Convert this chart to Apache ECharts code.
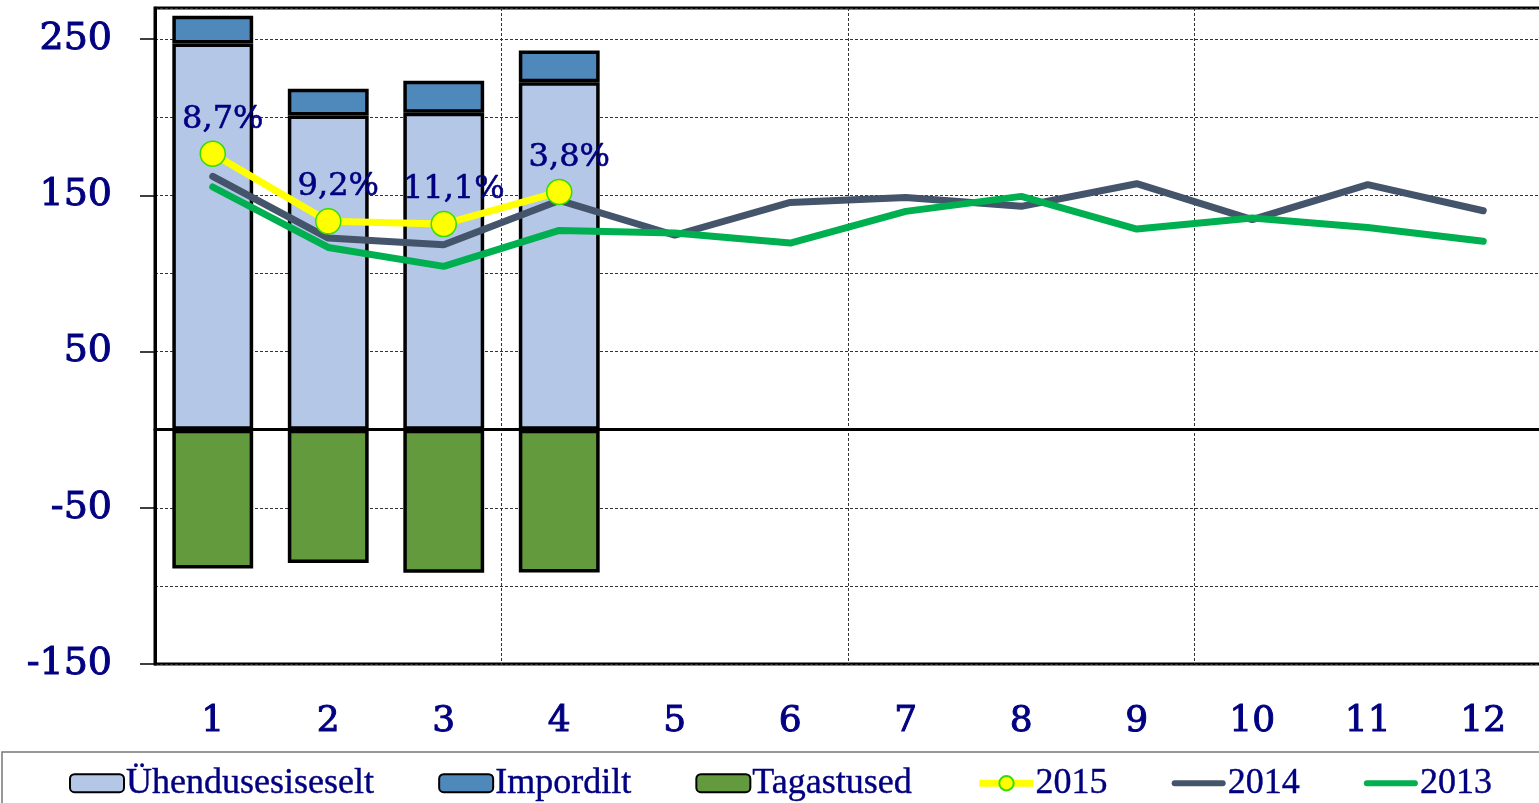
<!DOCTYPE html>
<html>
<head>
<meta charset="utf-8">
<title>Chart</title>
<script src="https://cdn.jsdelivr.net/npm/echarts/dist/echarts.min.js"></script>
<style>
  html, body { margin: 0; padding: 0; background: #fff; }
  #chart { width: 1539px; height: 803px; }
</style>
</head>
<body>
<div id="chart"></div>
<script>
  // kuud
  const months = ['1', '2', '3', '4', '5', '6', '7', '8', '9', '10', '11', '12']
  // tulpade väärtused
  const yhendusesiseselt = [247.3, 201.2, 203.0, 222.4]
  const impordilt = [17.8, 17.1, 20.4, 20.4]
  const tagastused = [-88.8, -85.4, -91.6, -91.4]
  // joonte väärtused
  const y2015 = [176.7, 133.4, 131.7, 152.2]
  const y2014 = [162.2, 122.7, 118.4, 146.8, 124.5, 145.5, 148.7, 143.0, 157.5, 134.5, 156.9, 140.2]
  const y2013 = [155.4, 116.7, 104.6, 127.6, 125.9, 119.5, 139.8, 149.4, 128.5, 135.5, 129.5, 120.6]
  const labels2015 = ['8,7%', '9,2%', '11,1%', '3,8%']
  const yTicks = [-150, -50, 50, 150, 250]

  const navy = '#000080'
  const numFont = 'DejaVu Serif'
  // paks joon legendi jaoks
  const barIcon = 'path://M3,0 L51,0 A3,3 0 0 1 51,6 L3,6 A3,3 0 0 1 3,0 Z'

  const chart = echarts.init(document.getElementById('chart'))
  chart.setOption({
    animation: false,
    grid: {
      left: 155,
      top: 8,
      right: -2,
      bottom: 139,
      show: true,
      borderColor: '#000',
      borderWidth: 3,
      containLabel: false,
      outerBoundsMode: 'none'
    },
    graphic: [{
      type: 'rect',
      shape: { x: 2, y: 752, width: 1545, height: 60 },
      style: { fill: 'none', stroke: '#777', lineWidth: 1.5 },
      silent: true
    }],
    legend: {
      top: 760,
      left: 64,
      itemWidth: 54,
      itemHeight: 18,
      itemGap: 64,
      data: [
        'Ühendusesiseselt',
        'Impordilt',
        'Tagastused',
        { name: '2015', lineStyle: { width: 7 } },
        { name: '2014', icon: barIcon },
        { name: '2013', icon: barIcon }
      ],
      textStyle: {
        fontFamily: 'Liberation Serif',
        fontSize: 36,
        color: navy,
        textBorderColor: navy,
        textBorderWidth: 0.4,
        padding: [0, 0, 0, -3]
      }
    },
    xAxis: {
      type: 'category',
      data: months,
      boundaryGap: true,
      axisLine: { lineStyle: { color: '#000', width: 3 } },
      axisTick: { show: false },
      axisLabel: {
        fontFamily: numFont,
        fontSize: 36,
        color: navy,
        textBorderColor: navy,
        textBorderWidth: 1,
        margin: 40
      },
      splitLine: {
        show: true,
        interval: 2,
        lineStyle: { color: '#333', width: 1, type: [3, 2] }
      }
    },
    yAxis: [
      {
        type: 'value',
        min: -150,
        max: 270,
        interval: 50,
        axisLine: { show: true, lineStyle: { color: '#000', width: 3 } },
        axisTick: { show: false },
        axisLabel: { show: false },
        splitLine: {
          show: true,
          lineStyle: { color: '#333', width: 1, type: [3, 2] }
        }
      },
      {
        type: 'value',
        position: 'left',
        min: -150,
        max: 270,
        interval: 50,
        axisLine: { show: false },
        axisTick: {
          show: true,
          customValues: yTicks,
          length: 15,
          lineStyle: { color: '#000', width: 1.5 }
        },
        axisLabel: {
          customValues: yTicks,
          fontFamily: numFont,
          fontSize: 38,
          color: navy,
          textBorderColor: navy,
          textBorderWidth: 1,
          margin: 43,
          formatter: function(v) {
            return yTicks.indexOf(v) >= 0 ? String(v) : ''
          }
        },
        splitLine: { show: false }
      }
    ],
    series: [
      {
        name: 'Ühendusesiseselt',
        type: 'bar',
        stack: 'kokku',
        barWidth: '70%',
        data: yhendusesiseselt,
        itemStyle: { color: '#b4c7e7', borderColor: '#000', borderWidth: 3.5 }
      },
      {
        name: 'Impordilt',
        type: 'bar',
        stack: 'kokku',
        barWidth: '70%',
        data: impordilt,
        itemStyle: { color: '#4f88bb', borderColor: '#000', borderWidth: 3.5 }
      },
      {
        name: 'Tagastused',
        type: 'bar',
        stack: 'kokku',
        barWidth: '70%',
        data: tagastused,
        itemStyle: { color: '#629a3d', borderColor: '#000', borderWidth: 3.5 },
        markLine: {
          silent: true,
          symbol: 'none',
          label: { show: false },
          lineStyle: { color: '#000', width: 1.2, type: 'solid' },
          data: [{ yAxis: 0 }]
        }
      },
      {
        name: '2014',
        type: 'line',
        data: y2014,
        symbol: 'none',
        lineStyle: { color: '#44546a', width: 7, cap: 'round' },
        itemStyle: { color: '#44546a' }
      },
      {
        name: '2013',
        type: 'line',
        data: y2013,
        symbol: 'none',
        lineStyle: { color: '#00b050', width: 7, cap: 'round' },
        itemStyle: { color: '#00b050' }
      },
      {
        name: '2015',
        type: 'line',
        data: y2015,
        symbol: 'circle',
        symbolSize: 25,
        lineStyle: { color: '#ffff00', width: 7 },
        itemStyle: { color: '#ffff00', borderColor: '#33dd00', borderWidth: 1.5 },
        label: {
          show: true,
          position: 'top',
          offset: [10, 0],
          fontFamily: numFont,
          fontSize: 32,
          color: navy,
          textBorderColor: navy,
          textBorderWidth: 0.6,
          formatter: function(p) {
            return labels2015[p.dataIndex]
          }
        }
      }
    ]
  })
</script>
</body>
</html>
